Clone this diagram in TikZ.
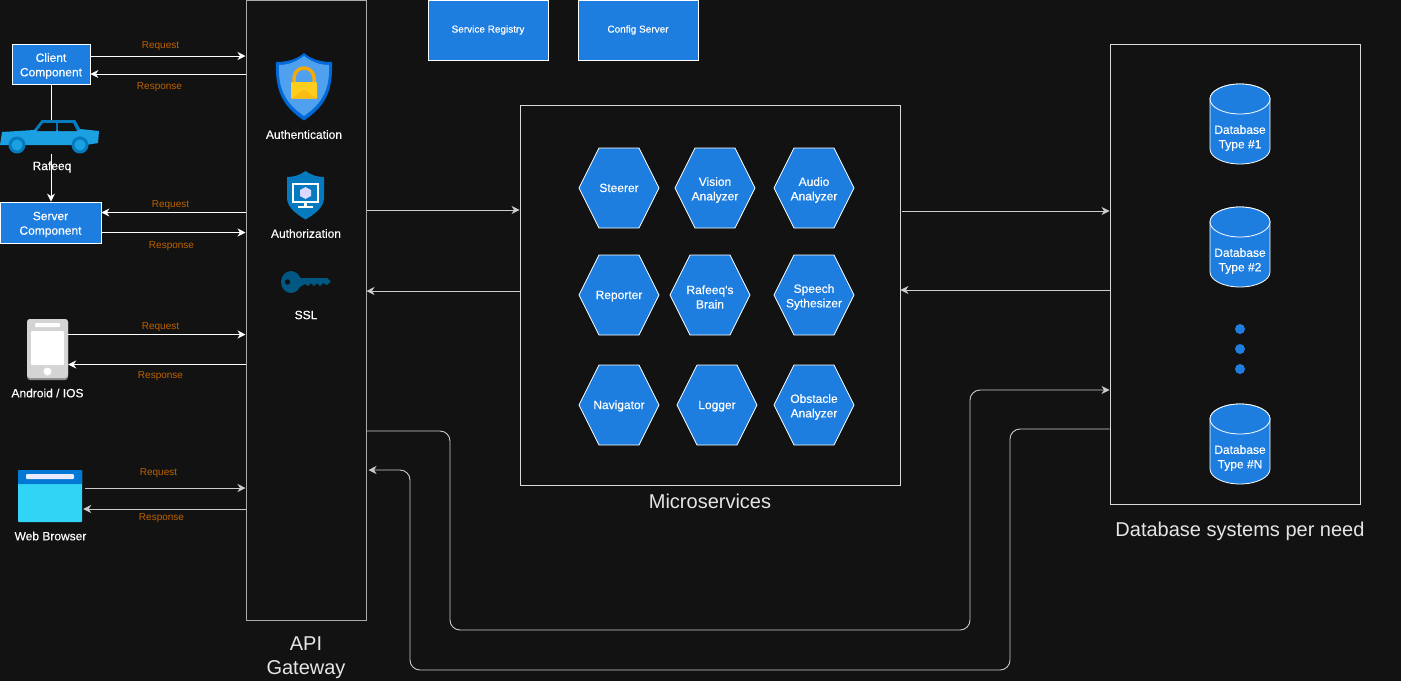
\documentclass[tikz,border=0pt]{standalone}
\usepackage{fontspec}
\setmainfont{Liberation Sans}
\newfontfamily\heavyfont[FakeBold=0.25]{Liberation Sans}
\usetikzlibrary{arrows.meta}
\definecolor{pagebg}{RGB}{18,18,18}
\definecolor{svcblue}{RGB}{30,126,224}
\definecolor{lblorange}{RGB}{190,98,0}
\definecolor{edgegrey}{RGB}{170,170,170}
\definecolor{carblue}{RGB}{27,161,226}
\definecolor{carline}{RGB}{6,122,190}
\definecolor{keyblue}{RGB}{0,88,130}
\definecolor{shieldtop}{RGB}{80,160,240}
\definecolor{shieldrim}{RGB}{0,105,215}
\definecolor{lockgold}{RGB}{255,205,30}
\definecolor{lockdark}{RGB}{245,170,10}
\definecolor{webtop}{RGB}{0,120,212}
\definecolor{webbody}{RGB}{50,212,245}

% hexagon outline with its text on top
\newcommand{\hexnode}[5][hexa]{
  \draw[hexbody, shift={(#3,#4)}] (-40,0) -- (-20,-40) -- (20,-40) -- (40,0) -- (20,40) -- (-20,40) -- cycle;
  \node[#1] (#2) at (#3,#4) {#5};
}
% cylinder outline with its text on top
\newcommand{\dbnode}[4]{
  \draw[hexbody, shift={(#2,#3)}] (-30,-25) -- (-30,25) arc[start angle=180, end angle=0, x radius=30, y radius=15] -- (30,-25) arc[start angle=0, end angle=-180, x radius=30, y radius=15] -- cycle;
  \draw[hexbody, shift={(#2,#3)}] (0,-25) circle[x radius=30, y radius=15];
  \node[hexb, yshift=-12pt] (#1) at (#2,#3) {#4};
}

\begin{document}
\begin{tikzpicture}[
    x=1pt, y=-1pt,
    >={Stealth[length=8pt,width=8pt,inset=2.5pt]},
    link/.style={draw=white, line width=0.9pt, ->},
    greylink/.style={link, draw=edgegrey!60!white},
    roundlink/.style={greylink, rounded corners=10pt},
    frame/.style={rectangle, draw=white!85!black, line width=0.9pt, inner sep=0pt},
    svcbox/.style={rectangle, draw=white, fill=svcblue, line width=0.8pt, inner sep=0pt},
    boxtag/.style={align=center, text=white, inner sep=0pt, yshift=-2pt, font=\heavyfont\fontsize{12}{14.5}\selectfont},
    topbox/.style={svcbox, align=center, text=white, font=\heavyfont\fontsize{10}{12}\selectfont, minimum width=120pt, minimum height=60pt},
    hexbody/.style={draw=white, fill=svcblue, line width=0.8pt},
    hexa/.style={text=white, inner sep=0pt, text height=9.6pt, text depth=1.5pt, font=\heavyfont\fontsize{12}{14.5}\selectfont},
    hexb/.style={align=center, text=white, inner sep=0pt, yshift=-2pt, font=\heavyfont\fontsize{12}{14.5}\selectfont},
    dot/.style={circle, fill=svcblue, minimum size=10pt, inner sep=0pt},
    tag/.style={text=white, inner sep=0pt, font=\heavyfont\fontsize{12}{14.5}\selectfont},
    big/.style={text=white!90!black, inner sep=0pt, align=center, font=\fontsize{20}{24}\selectfont},
    idx/.style={text=lblorange, inner sep=0pt, font=\fontsize{10}{12}\selectfont},
    hold/.style={inner sep=0pt},
  ]

  \fill[pagebg] (0,0) rectangle (1401,681);
  \useasboundingbox (0,0) rectangle (1401,681);

  % the big frames
  \node[frame, draw=edgegrey, line width=1pt, minimum width=120pt, minimum height=620pt] (gw) at (306,310) {};
  \node[frame, minimum width=380pt, minimum height=380pt] (micro) at (710,295) {};
  \node[frame, minimum width=250pt, minimum height=460pt] (dbs) at (1235,274) {};
  \node[big] (gwtag) at (306,658) {API\\Gateway};
  \node[big] (microtag) at (710,501) {Microservices};
  \node[big] (dbstag) at (1240,531) {Database systems per need};

  % top boxes
  \node[topbox] (registry) at (488,30) {Service Registry};
  \node[topbox] (config) at (638,30) {Config Server};

  % the clients
  \node[svcbox, minimum width=78pt, minimum height=40pt, label={[boxtag]center:Client\\Component}] (client) at (51,64) {};
  \node[svcbox, minimum width=101pt, minimum height=41pt, label={[boxtag]center:Server\\Component}] (server) at (50.5,222.5) {};
  \node[hold, minimum width=100pt, minimum height=34pt] (car) at (50,137) {};
  \node[hold, minimum width=41pt, minimum height=61pt] (phone) at (47.5,349.5) {};
  \node[hold, minimum width=64pt, minimum height=52pt] (web) at (50,496) {};
  \node[tag] (phonetag) at (47.5,393) {Android / IOS};
  \node[tag] (webtag) at (50.5,536) {Web Browser};

  % car
  \fill[carblue] (0,145) -- (2,132) -- (34,130) -- (42,120) -- (75,120) -- (80,129) -- (99,131) -- (98,143) -- (86,145) -- cycle;
  \fill[carline] (34,130) -- (42,120) -- (75,120) -- (80,130) -- cycle;
  \fill[pagebg] (37,131) -- (43,123) -- (56,123) -- (56,131) -- cycle;
  \fill[pagebg] (58,123) -- (73,123) -- (77,131) -- (58,131) -- cycle;
  \draw[carline, line width=3pt, fill=carblue] (17,145) circle[radius=7];
  \draw[carline, line width=3pt, fill=carblue] (80,145) circle[radius=7];

  % phone
  \fill[black!45, rounded corners=3pt] (27,319) rectangle (68,380);
  \fill[black!17, rounded corners=3pt] (27,319) rectangle (68,378);
  \fill[white, rounded corners=1pt] (31,331) rectangle (64,365);
  \fill[white, rounded corners=1pt] (35,323) rectangle (60,327);
  \fill[white] (47.5,371.5) circle[radius=4];

  % browser
  \fill[webbody, rounded corners=1pt] (18,470) rectangle (82,522);
  \fill[webtop, rounded corners=1pt] (18,470) rectangle (82,484);
  \fill[white!92!blue, rounded corners=1pt] (26,474) rectangle (74,479);

  % shield with lock
  \fill[shieldrim] (304,53) .. controls (312,60) and (322,62) .. (332,62) .. controls (333,90) and (326,106) .. (304,120.5) .. controls (282,106) and (275,90) .. (276,62) .. controls (286,62) and (296,60) .. cycle;
  \fill[shieldtop] (304,56) .. controls (312,62) and (320,65) .. (329,65) .. controls (330,88) and (323,103) .. (304,116) .. controls (285,103) and (278,88) .. (279,65) .. controls (288,65) and (296,62) .. cycle;
  \draw[lockdark, line width=3.5pt] (294,84) -- (294,78) arc[start angle=180, end angle=360, radius=10] -- (314,84);
  \fill[lockgold, rounded corners=1pt] (291,82) rectangle (317,98.5);
  \fill[lockdark!50!lockgold] (291,98.5) -- (304,90) -- (317,98.5) -- cycle;
  \node[tag] (authn) at (304,134.5) {Authentication};

  % shield with monitor
  \fill[carline] (305.5,171) .. controls (311,175) and (317,177) .. (324,177) -- (324,198) .. controls (324,207) and (315,214) .. (305.5,219.5) .. controls (296,214) and (287,207) .. (287,198) -- (287,177) .. controls (294,177) and (300,175) .. cycle;
  \fill[white] (292,183) rectangle (319,203);
  \fill[carline] (294,185) rectangle (317,201);
  \fill[white] (304,203) rectangle (307,206);
  \fill[white] (298,206) rectangle (313,207.5);
  \fill[white!85!blue] (305.5,187) -- (311,190) -- (311,196) -- (305.5,199) -- (300,196) -- (300,190) -- cycle;
  \node[tag] (authz) at (306,233.5) {Authorization};

  % key
  \fill[keyblue] (291,282) circle[x radius=10, y radius=11];
  \fill[keyblue] (298,278) -- (327,278) -- (331,281.5) -- (327,285) -- (323,283) -- (320,286) -- (317,283) -- (314,286) -- (311,283) -- (308,286) -- (305,284) -- (298,288) -- cycle;
  \fill[pagebg] (287.5,282) circle[radius=2.7];
  \node[tag] (ssl) at (306,315) {SSL};

  % microservices
  \hexnode{steerer}{619}{188}{Steerer}
  \hexnode[hexb]{vision}{715}{188}{Vision\\Analyzer}
  \hexnode[hexb]{audio}{814}{188}{Audio\\Analyzer}
  \hexnode{reporter}{619}{295}{Reporter}
  \hexnode[hexb]{brain}{710}{295}{Rafeeq's\\Brain}
  \hexnode[hexb]{speech}{814}{295}{Speech\\Sythesizer}
  \hexnode{navigator}{619}{405}{Navigator}
  \hexnode{logger}{717}{405}{Logger}
  \hexnode[hexb]{obstacle}{814}{405}{Obstacle\\Analyzer}

  % databases
  \dbnode{db1}{1240}{124}{Database\\Type \#1}
  \dbnode{db2}{1240}{247}{Database\\Type \#2}
  \dbnode{dbn}{1240}{444}{Database\\Type \#N}
  \node[dot] (dota) at (1240,329) {};
  \node[dot] (dotb) at (1240,349) {};
  \node[dot] (dotc) at (1240,369) {};

  % client and server
  \draw[link] ([yshift=8pt]client.east) coordinate (c1) -- (c1 -| gw.west);
  \draw[link] ([yshift=-10pt]client.east) coordinate (c2) (c2 -| gw.west) -- (c2);
  \draw[draw=white, line width=0.9pt] (client.south) -- (client.south |- car.north);
  \draw[link] (client.south |- car.south) -- (client.south |- server.north);
  \node[tag] (cartag) at (52,167) {Rafeeq};
  \draw[link] ([yshift=10pt]server.east) coordinate (s1) (s1 -| gw.west) -- (s1);
  \draw[link] ([yshift=-10pt]server.east) coordinate (s2) -- (s2 -| gw.west);
  \node[idx] (l1) at (160.5,46) {Request};
  \node[idx] (l2) at (159.5,87) {Response};
  \node[idx] (l3) at (170.5,205) {Request};
  \node[idx] (l4) at (171.5,246) {Response};

  % phone and browser
  \draw[link] ([yshift=15pt]phone.east) coordinate (p1) -- (p1 -| gw.west);
  \draw[link] ([yshift=-15pt]phone.east) coordinate (p2) (p2 -| gw.west) -- (p2);
  \draw[greylink] ([xshift=3pt,yshift=8pt]web.east) coordinate (w1) -- (w1 -| gw.west);
  \draw[greylink] ([xshift=1pt,yshift=-13pt]web.east) coordinate (w2) (w2 -| gw.west) -- (w2);
  \node[idx] (l5) at (160.5,327) {Request};
  \node[idx] (l6) at (160.5,376) {Response};
  \node[idx] (l7) at (158.5,473) {Request};
  \node[idx] (l8) at (161.5,518) {Response};

  % gateway, microservices, databases
  \draw[greylink] ([yshift=100pt]gw.east) coordinate (g1) -- (g1 -| micro.west);
  \draw[greylink] ([yshift=4pt]micro.west) coordinate (g2) -- (g2 -| gw.east);
  \draw[greylink] ([xshift=2pt,yshift=84pt]micro.east) coordinate (m1) -- (m1 -| dbs.west);
  \draw[greylink] ([yshift=-16pt]dbs.west) coordinate (m2) -- (m2 -| micro.east);

  % the two long ways round
  \coordinate (r1) at (450,630);
  \coordinate (r2) at (970,630);
  \coordinate (r3) at (1010,670);
  \coordinate (r4) at (410,670);
  \draw[roundlink] ([yshift=-121pt]gw.east) coordinate (g3) -- (g3 -| r1) -- (r1) -- (r2) |- ([yshift=-116pt]dbs.west);
  \draw[roundlink] ([yshift=-155pt]dbs.west) coordinate (d3) -- (d3 -| r3) -- (r3) -- (r4) |- ([xshift=2pt,yshift=-160pt]gw.east);
\end{tikzpicture}
\end{document}
